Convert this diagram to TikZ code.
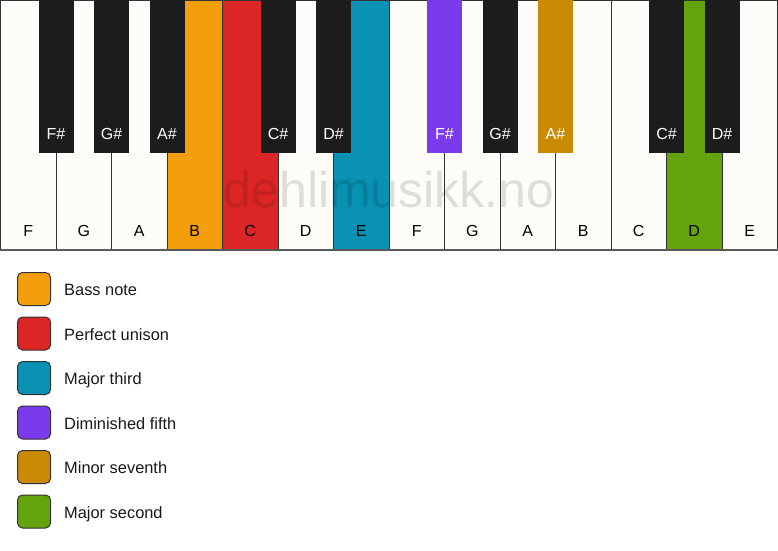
\documentclass[tikz,border=0pt]{standalone}
\usepackage{fontspec}
\setmainfont{Liberation Sans}
\definecolor{keywhite}{HTML}{FDFCF8}
\definecolor{keyblack}{HTML}{1C1C1C}
\definecolor{keyline}{HTML}{333333}
\definecolor{cbass}{HTML}{F59E0B}
\definecolor{cunison}{HTML}{DC2626}
\definecolor{cthird}{HTML}{0891B2}
\definecolor{cfifth}{HTML}{7C3AED}
\definecolor{cseventh}{HTML}{CA8A04}
\definecolor{csecond}{HTML}{65A30D}
\tikzset{
  whitekey/.style={draw=keyline, line width=1pt, minimum width=55.5pt, minimum height=250pt, inner sep=0pt, outer sep=0pt, anchor=north west},
  blackkey/.style={draw=none, minimum width=35pt, minimum height=153pt, inner sep=0pt, outer sep=0pt, anchor=north},
  keytext/.style={font=\fontsize{16}{19}\selectfont, anchor=base, inner sep=0pt},
  legbox/.style={draw=keyline, line width=1pt, rounded corners=5pt, minimum width=33pt, minimum height=33pt, inner sep=0pt, anchor=north west},
  legtext/.style={font=\fontsize{16.4}{19}\selectfont, anchor=base west, inner sep=0pt, text=black!90},
  watermark/.style={font=\fontsize{50}{58}\selectfont, anchor=base, inner sep=0pt, text=black, text opacity=0.12}
}
\begin{document}
\begin{tikzpicture}[x=1pt,y=-1pt]
\useasboundingbox (0,0) rectangle (778,550);
\fill[white] (0,0) rectangle (778,550);
\def\kw{55.5}
% white keys
\foreach \n/\c [count=\i from 0] in {F/keywhite,G/keywhite,A/keywhite,B/cbass,C/cunison,D/keywhite,E/cthird,F/keywhite,G/keywhite,A/keywhite,B/keywhite,C/keywhite,D/csecond,E/keywhite}{
  \node[whitekey, fill=\c] (w\i) at ({0.5+\i*\kw},0) {};
  \node[keytext] (wl\i) at ({0.5+\i*\kw+\kw/2},236.5) {\n};
}
% bottom edge
\draw[line width=2pt, color=black!65] (0,250) -- (778,250);
% watermark
\node[watermark] (wm) at (389,207) {dehlimusikk.no};
% black keys
\foreach \p/\n/\c in {1/F\#/keyblack,2/G\#/keyblack,3/A\#/keyblack,5/C\#/keyblack,6/D\#/keyblack,8/F\#/cfifth,9/G\#/keyblack,10/A\#/cseventh,12/C\#/keyblack,13/D\#/keyblack}{
  \node[blackkey, fill=\c] (b\p) at ({0.5+\p*\kw},0) {};
  \node[keytext, text=white] (bl\p) at ({0.5+\p*\kw},139.3) {\n};
}
% legend
\foreach \c/\t [count=\k from 0] in {cbass/Bass note,cunison/Perfect unison,cthird/Major third,cfifth/Diminished fifth,cseventh/Minor seventh,csecond/Major second}{
  \node[legbox, fill=\c] (lb\k) at (17,{272+44.5*\k}) {};
  \node[legtext] (lt\k) at (64,{295.7+44.5*\k}) {\t};
}
\end{tikzpicture}
\end{document}
